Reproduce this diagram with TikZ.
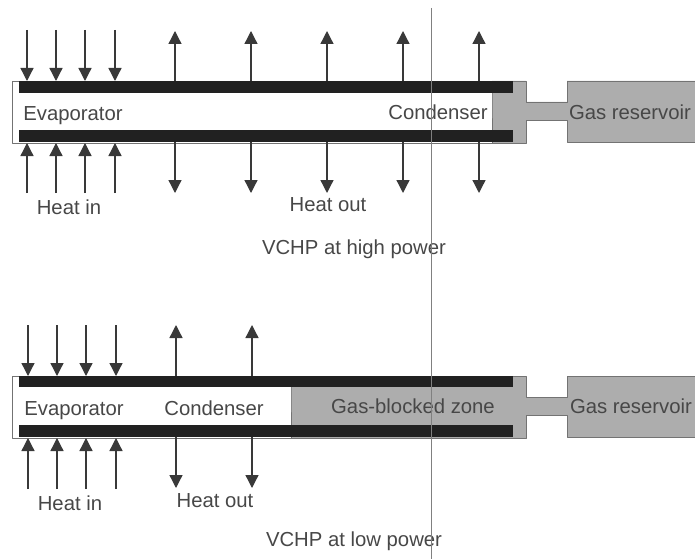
\documentclass[tikz,border=0pt]{standalone}
\usepackage{fontspec}
\setmainfont{Liberation Sans}
\usetikzlibrary{arrows.meta}
\definecolor{wallcol}{gray}{.13}
\definecolor{gascol}{gray}{.68}
\definecolor{edgecol}{gray}{.45}
\definecolor{inkcol}{gray}{.28}
\tikzset{
 lab/.style={text=inkcol,inner sep=0pt},
 heat/.style={draw=inkcol!80!black,line width=1.3pt,-{Triangle[length=13pt,width=13pt]},shorten >=0pt}
}
\begin{document}
\begin{tikzpicture}[x=1pt,y=-1pt, font=\fontsize{20.3}{23}\selectfont, line join=round]
 \useasboundingbox (0,0) rectangle (695,559);
 \def\xwall{513} \def\xcap{526} \def\xres{567} \def\xmax{695}
 % high power
 \draw[edgecol,fill=white,line width=.8pt] (12,81) rectangle (492,143);
 \draw[edgecol,fill=gascol,line width=.8pt] (492,94)--(492,81)--(\xcap,81)--(\xcap,102)--(\xres,102)--(\xres,81)--(\xmax+2,81)--(\xmax+2,142)--(\xres,142)--(\xres,120)--(\xcap,120)--(\xcap,143)--(492,143)--cycle;
 \fill[wallcol] (19,81) rectangle (\xwall,93);
 \fill[wallcol] (19,130) rectangle (\xwall,142);
 \foreach \x in {27,56,85,115} {
  \draw[heat] (\x,30)--(\x,81);
  \draw[heat] (\x,193)--(\x,143);
 }
 \foreach \x in {175,251,327,403,479} {
  \draw[heat] (\x,81)--(\x,31);
  \draw[heat] (\x,142)--(\x,193);
 }
 \path
 (73,115.5) node[lab] (evaphigh) {Evaporator}
 (438,112) node[lab] (condhigh) {Condenser}
 (630,112) node[lab] (reshigh) {Gas reservoir}
 (69,207) node[lab] (inhigh) {Heat in}
 (328,205) node[lab] (outhigh) {Heat out}
 (354,249) node[lab] (titlehigh) {VCHP at high power};
 % low power
 \draw[edgecol,fill=white,line width=.8pt] (12,376) rectangle (291,438);
 \draw[edgecol,fill=gascol,line width=.8pt] (291,387)--(291,376)--(\xcap,376)--(\xcap,397)--(\xres,397)--(\xres,376)--(\xmax+2,376)--(\xmax+2,437)--(\xres,437)--(\xres,415)--(\xcap,415)--(\xcap,438)--(291,438)--cycle;
 \fill[wallcol] (19,376) rectangle (\xwall,387);
 \fill[wallcol] (19,425) rectangle (\xwall,437);
 \foreach \x in {28,57,86,116} {
  \draw[heat] (\x,325)--(\x,376);
  \draw[heat] (\x,489)--(\x,438);
 }
 \foreach \x in {176,252} {
  \draw[heat] (\x,376)--(\x,325);
  \draw[heat] (\x,437)--(\x,488);
 }
 \path
 (74,410.5) node[lab] (evaplow) {Evaporator}
 (214,408) node[lab] (condlow) {Condenser}
 (413,406) node[lab] (zonelow) {Gas-blocked zone}
 (631,406) node[lab] (reslow) {Gas reservoir}
 (70,503) node[lab] (inlow) {Heat in}
 (215,501) node[lab] (outlow) {Heat out}
 (354,541) node[lab] (titlelow) {VCHP at low power};
 % page crease
 \draw[gray,line width=1pt] (431,8)--(431,559);
\end{tikzpicture}
\end{document}
